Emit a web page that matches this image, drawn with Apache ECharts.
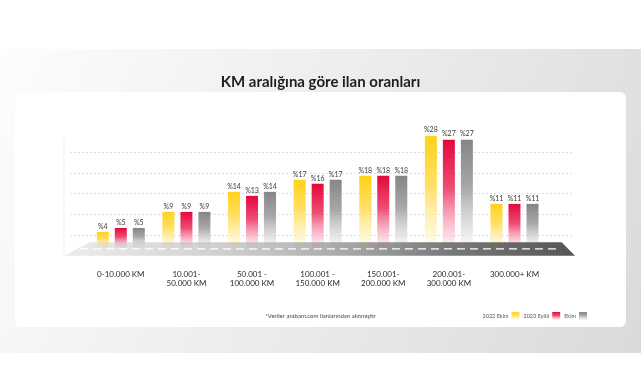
<!DOCTYPE html>
<html>
<head>
<meta charset="utf-8">
<script src="https://cdn.jsdelivr.net/npm/echarts@6/dist/echarts.min.js"></script>
<style>html,body{margin:0;padding:0;background:#fff;}#c{width:641px;height:385px;}</style>
</head>
<body>
<div id="c"></div>
<script>
var categories = ['0-10.000 KM', '10.001-\n50.000 KM', '50.001 -\n100.000 KM', '100.001 -\n150.000 KM', '150.001-\n200.000 KM', '200.001-\n300.000 KM', '300.000+ KM'];
var seriesNames = ['2022 Ekim', '2023 Eylül', 'Ekim'];
var values2022Ekim = [4, 9, 14, 17, 18, 28, 11];
var values2023Eylul = [5, 9, 13, 16, 18, 27, 11];
var valuesEkim = [5, 9, 14, 17, 18, 27, 11];
var gridTicks = [0, 1, 2, 3, 4, 5, 6];

function grad(top, mid, bottom) {
  return new echarts.graphic.LinearGradient(0, 0, 0, 1, [
    {offset: 0, color: top}, {offset: 0.45, color: mid}, {offset: 1, color: bottom}
  ]);
}
var colors = [
  grad('#ffd21a', '#ffe066', 'rgba(255,250,225,0.6)'),
  grad('#e3083c', '#ee4d74', 'rgba(255,235,240,0.6)'),
  grad('#858585', '#a9a9a9', 'rgba(245,245,245,0.6)')
];
var dataSets = [values2022Ekim, values2023Eylul, valuesEkim];

var chart = echarts.init(document.getElementById('c'), null, {renderer: 'canvas'});
var font = 'Lato, "Open Sans", sans-serif';

var series = dataSets.map(function (d, i) {
  return {
    name: seriesNames[i],
    type: 'bar',
    xAxisIndex: 0, yAxisIndex: 0,
    data: d,
    barWidth: 12,
    barGap: '50%',
    itemStyle: {color: colors[i]},
    label: {
      show: true, position: 'top', distance: 2,
      formatter: function (p) { return '%' + p.value; },
      fontSize: 7, color: '#3a3a3a', fontFamily: font
    },
    z: 3
  };
});

chart.setOption({
  animation: false,
  title: [
    {text: 'KM aralığına göre ilan oranları', left: 'center', top: 70,
     textStyle: {fontSize: 15, fontWeight: 'bold', color: '#1e1e1e', fontFamily: font}},
    {text: '*Veriler arabam.com ilanlarından alınmıştır', left: 'center', top: 308,
     textStyle: {fontSize: 6, fontWeight: 'normal', color: '#444', fontFamily: font}}
  ],
  legend: {
    data: seriesNames, right: 49, top: 307, align: 'right',
    itemWidth: 8, itemHeight: 8, itemGap: 4,
    icon: 'rect',
    textStyle: {fontSize: 5.5, color: '#555', fontFamily: font, padding: [0, -2, 0, 0]}
  },
  grid: [
    {left: 88, right: 93.7, top: 131.5, bottom: 129.3},
    {left: 70, right: 68, top: 131.5, bottom: 129.3}
  ],
  xAxis: [
    {type: 'category', gridIndex: 0, data: categories,
     axisLine: {show: false}, axisTick: {show: false},
     axisLabel: {margin: 14, fontSize: 8, lineHeight: 9, color: '#2a2a2a', fontFamily: font, interval: 0}},
    {type: 'value', gridIndex: 1, show: false, min: 0, max: 1}
  ],
  yAxis: [
    {type: 'value', gridIndex: 0, min: -1.92, max: 29.05, show: false, splitLine: {show: false}},
    {type: 'value', gridIndex: 1, min: gridTicks[0], max: gridTicks[gridTicks.length - 1], interval: 1,
     axisLine: {show: false}, axisTick: {show: false}, axisLabel: {show: false},
     splitLine: {show: true, lineStyle: {
       color: ['rgba(0,0,0,0)', '#dedede', '#dedede', '#dedede', '#dedede', '#dedede', 'rgba(0,0,0,0)'],
       type: [2, 2], width: 1}}}
  ],
  graphic: [
    {type: 'rect', z: -20, silent: true, shape: {x: 0, y: 49, width: 641, height: 304},
     style: {fill: new echarts.graphic.LinearGradient(0, 0, 1, 1, [
       {offset: 0, color: '#fdfdfd'}, {offset: 0.5, color: '#ececec'}, {offset: 1, color: '#dadada'}])}},
    {type: 'rect', z: -19, silent: true, shape: {x: 15, y: 92, width: 611, height: 235, r: 6},
     style: {fill: '#ffffff'}},
    {type: 'line', z: -18, silent: true, shape: {x1: 64, y1: 137, x2: 64, y2: 255}, style: {stroke: '#f1f1f1', lineWidth: 1}},
    {type: 'polygon', z: 10, silent: true,
     shape: {points: [[64, 255.7], [90, 242.3], [561.7, 242.3], [575, 255.7]]},
     style: {fill: new echarts.graphic.LinearGradient(0, 0, 1, 0, [
       {offset: 0, color: 'rgba(200,200,200,0.35)'},
       {offset: 0.4, color: 'rgba(170,170,170,0.7)'},
       {offset: 0.75, color: 'rgba(110,110,110,0.92)'},
       {offset: 1, color: 'rgba(85,85,85,1)'}])}},
    {type: 'line', z: 11, silent: true, shape: {x1: 80, y1: 248.8, x2: 556, y2: 248.8},
     style: {stroke: '#ffffff', lineWidth: 1.3, lineDash: [8, 5]}}
  ],
  series: series
});
</script>
</body>
</html>
